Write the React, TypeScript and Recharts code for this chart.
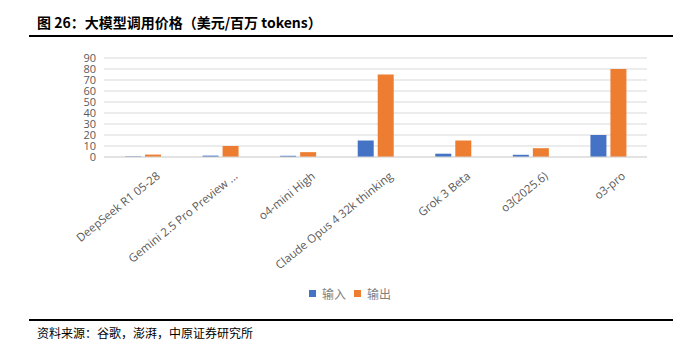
import { BarChart, Bar, XAxis, YAxis, CartesianGrid, Legend } from 'recharts'

const models = [
  'DeepSeek R1 05-28',
  'Gemini 2.5 Pro Preview ...',
  'o4-mini High',
  'Claude Opus 4 32k thinking',
  'Grok 3 Beta',
  'o3(2025.6)',
  'o3-pro',
]
const inputPrice = [0.55, 1.25, 1.1, 15, 3, 2, 20]
const outputPrice = [2.19, 10, 4.4, 75, 15, 8, 80]
const yTicks = [0, 10, 20, 30, 40, 50, 60, 70, 80, 90]

const data = models.map((name, i) => ({ name, 输入: inputPrice[i], 输出: outputPrice[i] }))

const axisFont = '"Open Sans", "Noto Sans", sans-serif'

function AngledTick(props: any) {
  const { x, y, payload } = props
  return (
    <text
      transform={`translate(${x + 12},${y + 5}) rotate(-39)`}
      textAnchor="end"
      dominantBaseline="hanging"
      fontSize={11.5}
      fontFamily={axisFont}
      fill="#595959"
    >
      {payload.value}
    </text>
  )
}

function LegendContent() {
  const items = [
    { label: '输入', color: '#4472c4' },
    { label: '输出', color: '#ed7d31' },
  ]
  return (
    <div style={{ display: 'flex', justifyContent: 'center', gap: 8, fontFamily: '"Noto Sans CJK SC", sans-serif', fontSize: 12, color: '#7f7f7f' }}>
      {items.map((it) => (
        <span key={it.label} style={{ display: 'flex', alignItems: 'center' }}>
          <span style={{ width: 7, height: 7, background: it.color, marginRight: 6, display: 'inline-block' }} />
          {it.label}
        </span>
      ))}
    </div>
  )
}

export default function App() {
  return (
    <div style={{ position: 'absolute', left: 0, top: 0, width: 700, height: 354, background: '#fff', fontFamily: '"Noto Sans CJK SC", sans-serif' }}>
      <div style={{ position: 'absolute', left: 37, top: 12, fontSize: 14, fontWeight: 700, color: '#000', whiteSpace: 'nowrap' }}>
        图 26：大模型调用价格（美元/百万 tokens）
      </div>
      <div style={{ position: 'absolute', left: 29, top: 35, width: 644, height: 2, background: '#000' }} />
      <div style={{ position: 'absolute', left: 0, top: 0 }}>
        <BarChart width={700} height={305} data={data} margin={{ top: 58, right: 53, left: 0, bottom: 0 }} barSize={16} barGap={4}>
          <CartesianGrid vertical={false} stroke="#d9d9d9" />
          <XAxis
            dataKey="name"
            interval={0}
            tick={<AngledTick />}
            tickLine={false}
            axisLine={{ stroke: '#d9d9d9' }}
            height={128}
          />
          <YAxis
            width={104}
            domain={[0, 90]}
            ticks={yTicks}
            interval={0}
            tickLine={false}
            axisLine={false}
            tick={{ fontSize: 11, fontFamily: axisFont, fill: '#595959' }}
          />
          <Legend
            verticalAlign="bottom"
            height={20}
            content={<LegendContent />}
            wrapperStyle={{ left: 0, width: 700 }}
          />
          <Bar dataKey="输入" fill="#4472c4" isAnimationActive={false} />
          <Bar dataKey="输出" fill="#ed7d31" isAnimationActive={false} />
        </BarChart>
      </div>
      <div style={{ position: 'absolute', left: 29, top: 319, width: 644, height: 2, background: '#000' }} />
      <div style={{ position: 'absolute', left: 37, top: 324, fontSize: 12, color: '#000', whiteSpace: 'nowrap' }}>
        资料来源：谷歌，澎湃，中原证券研究所
      </div>
    </div>
  )
}
